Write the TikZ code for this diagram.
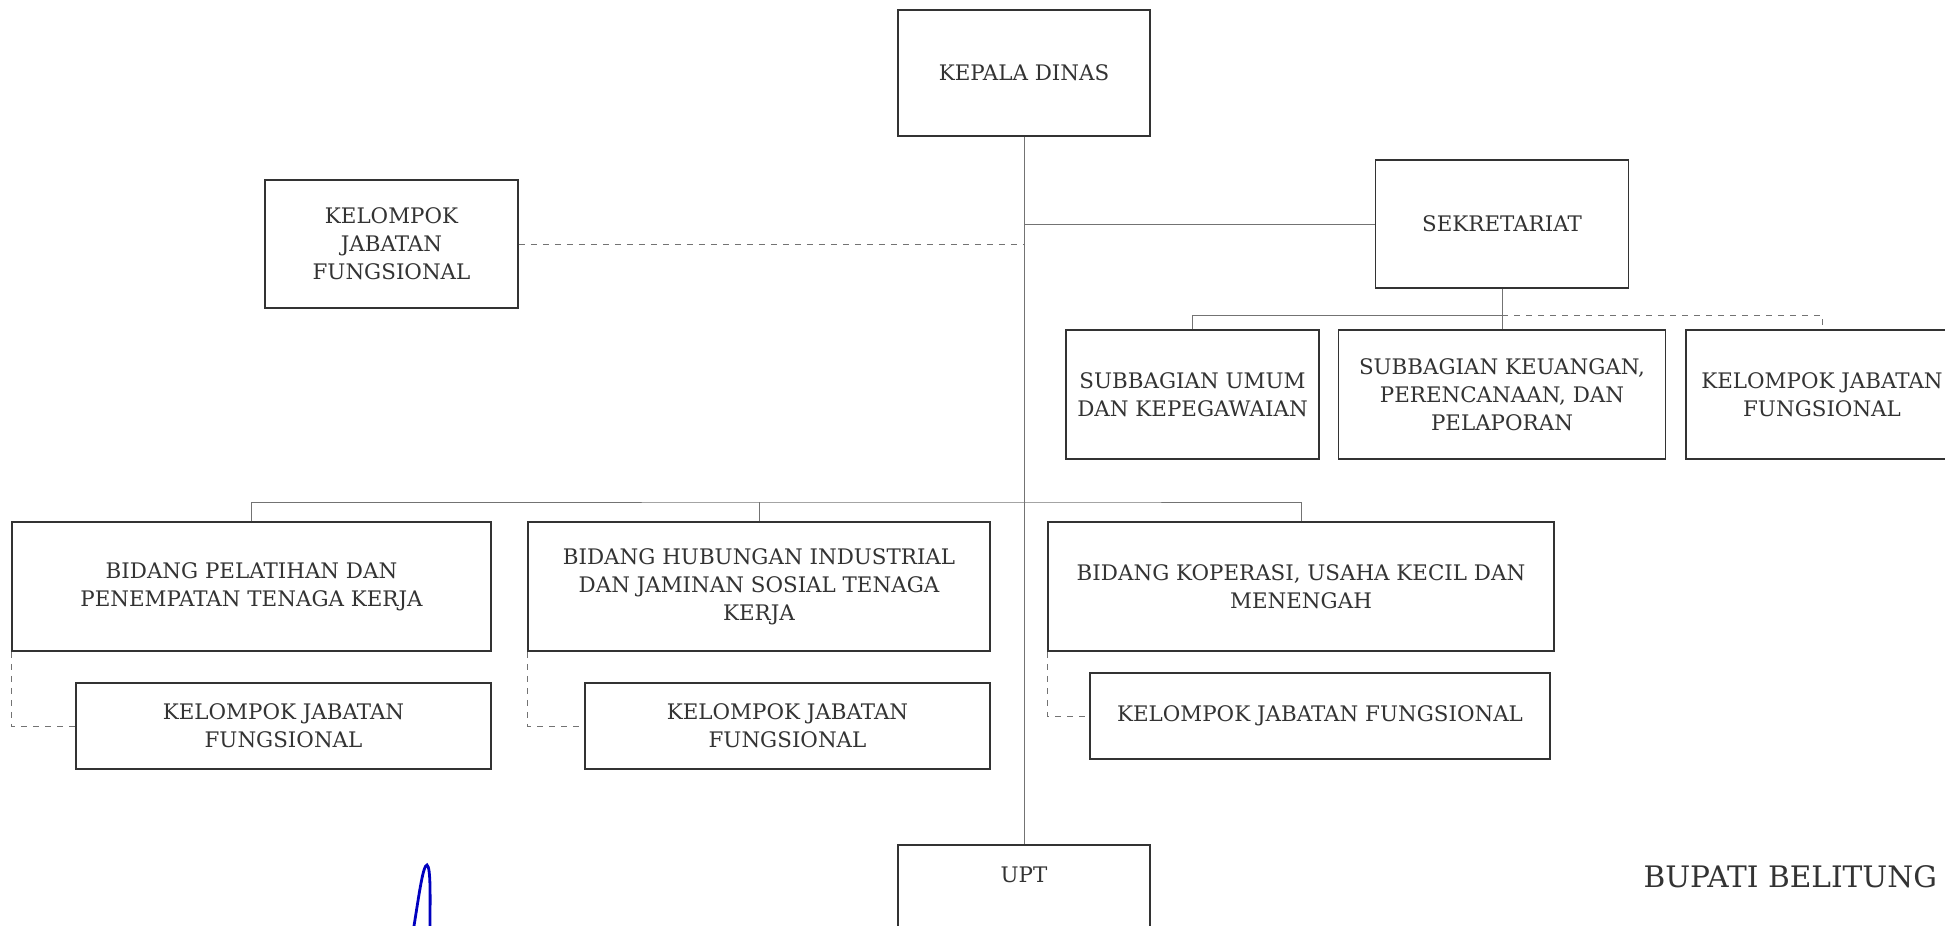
\documentclass[tikz,border=0pt]{standalone}
\usepackage{fontspec}
\setmainfont{DejaVu Serif}
\newcommand\dinasfont{\fontsize{10.7}{14}\selectfont}
\newcommand\bupatifont{\fontsize{14.8}{17}\selectfont}
\begin{document}
\begin{tikzpicture}[x=.5pt,y=-.5pt, font=\dinasfont,
  box/.style={draw=black!80, line width=.9pt, align=center, inner sep=0pt, text=black!80},
  ln/.style={draw=black!55, line width=.5pt}, dln/.style={ln, dashed}]
\clip (0,0) rectangle (1945,926);
% pimpinan
\node[box, minimum width=126pt, minimum height=63pt] (kadis) at (1024,73) {KEPALA DINAS};
\node[box, minimum width=126.5pt, minimum height=64pt] (jf0) at (391.5,244) {KELOMPOK\\JABATAN\\FUNGSIONAL};
\node[box, minimum width=126.5pt, minimum height=64pt] (sekre) at (1502,224) {SEKRETARIAT};
% sekretariat
\node[box, minimum width=126.5pt, minimum height=64.5pt] (subum) at (1192.5,394.5) {SUBBAGIAN UMUM\\DAN KEPEGAWAIAN};
\node[box, minimum width=163.5pt, minimum height=64.5pt] (subkeu) at (1502,394.5) {SUBBAGIAN KEUANGAN,\\PERENCANAAN, DAN\\PELAPORAN};
\node[box, minimum width=136pt, minimum height=64.5pt] (jfs) at (1822,394.5) {KELOMPOK JABATAN\\FUNGSIONAL};
% bidang
\node[box, minimum width=239.5pt, minimum height=64.5pt] (bid1) at (251.5,586.5) {BIDANG PELATIHAN DAN\\PENEMPATAN TENAGA KERJA};
\node[box, minimum width=231pt, minimum height=64.5pt] (bid2) at (759,586.5) {BIDANG HUBUNGAN INDUSTRIAL\\DAN JAMINAN SOSIAL TENAGA\\KERJA};
\node[box, minimum width=253pt, minimum height=64.5pt] (bid3) at (1301,586.5) {BIDANG KOPERASI, USAHA KECIL DAN\\MENENGAH};
\node[box, minimum width=207.5pt, minimum height=43pt] (jf1) at (283.5,726) {KELOMPOK JABATAN\\FUNGSIONAL};
\node[box, minimum width=202.5pt, minimum height=43pt] (jf2) at (787.5,726) {KELOMPOK JABATAN\\FUNGSIONAL};
\node[box, minimum width=230pt, minimum height=43pt] (jf3) at (1320,716) {KELOMPOK JABATAN FUNGSIONAL};
\node[box, minimum width=126pt, text height=18.5pt, text depth=30pt, anchor=base] (upt) at (1024,882) {UPT};
\node[text=black!80, font=\bupatifont, anchor=base east] (bupati) at (1944,887) {BUPATI BELITUNG};
% garis
\coordinate (sb) at (1502,315);
\coordinate (bb) at (1024,502);
\draw[ln] (kadis.south) -- (upt.north);
\draw[ln] (kadis.south |- sekre.west) -- (sekre.west);
\draw[dln] (jf0.east) -- (kadis.south |- jf0.east);
\draw[ln] (sekre.south) -- (subkeu.north);
\draw[ln] (subum.north) |- (sb);
\draw[dln] (sb) -| (jfs.north);
\draw[ln] (bid1.north) |- (bb) -| (bid3.north);
\draw[ln] (bid2.north) -- (bid2.north |- bb);
\foreach \b/\k in {bid1/jf1, bid2/jf2, bid3/jf3} \draw[dln] (\b.south west) |- (\k.west);
% paraf
\draw[blue!75!black, line width=1.4pt, line cap=round] (414,926) .. controls (419,895) and (423,865) .. (427,865) .. controls (431,867) and (430,900) .. (430,926);
\end{tikzpicture}
\end{document}
